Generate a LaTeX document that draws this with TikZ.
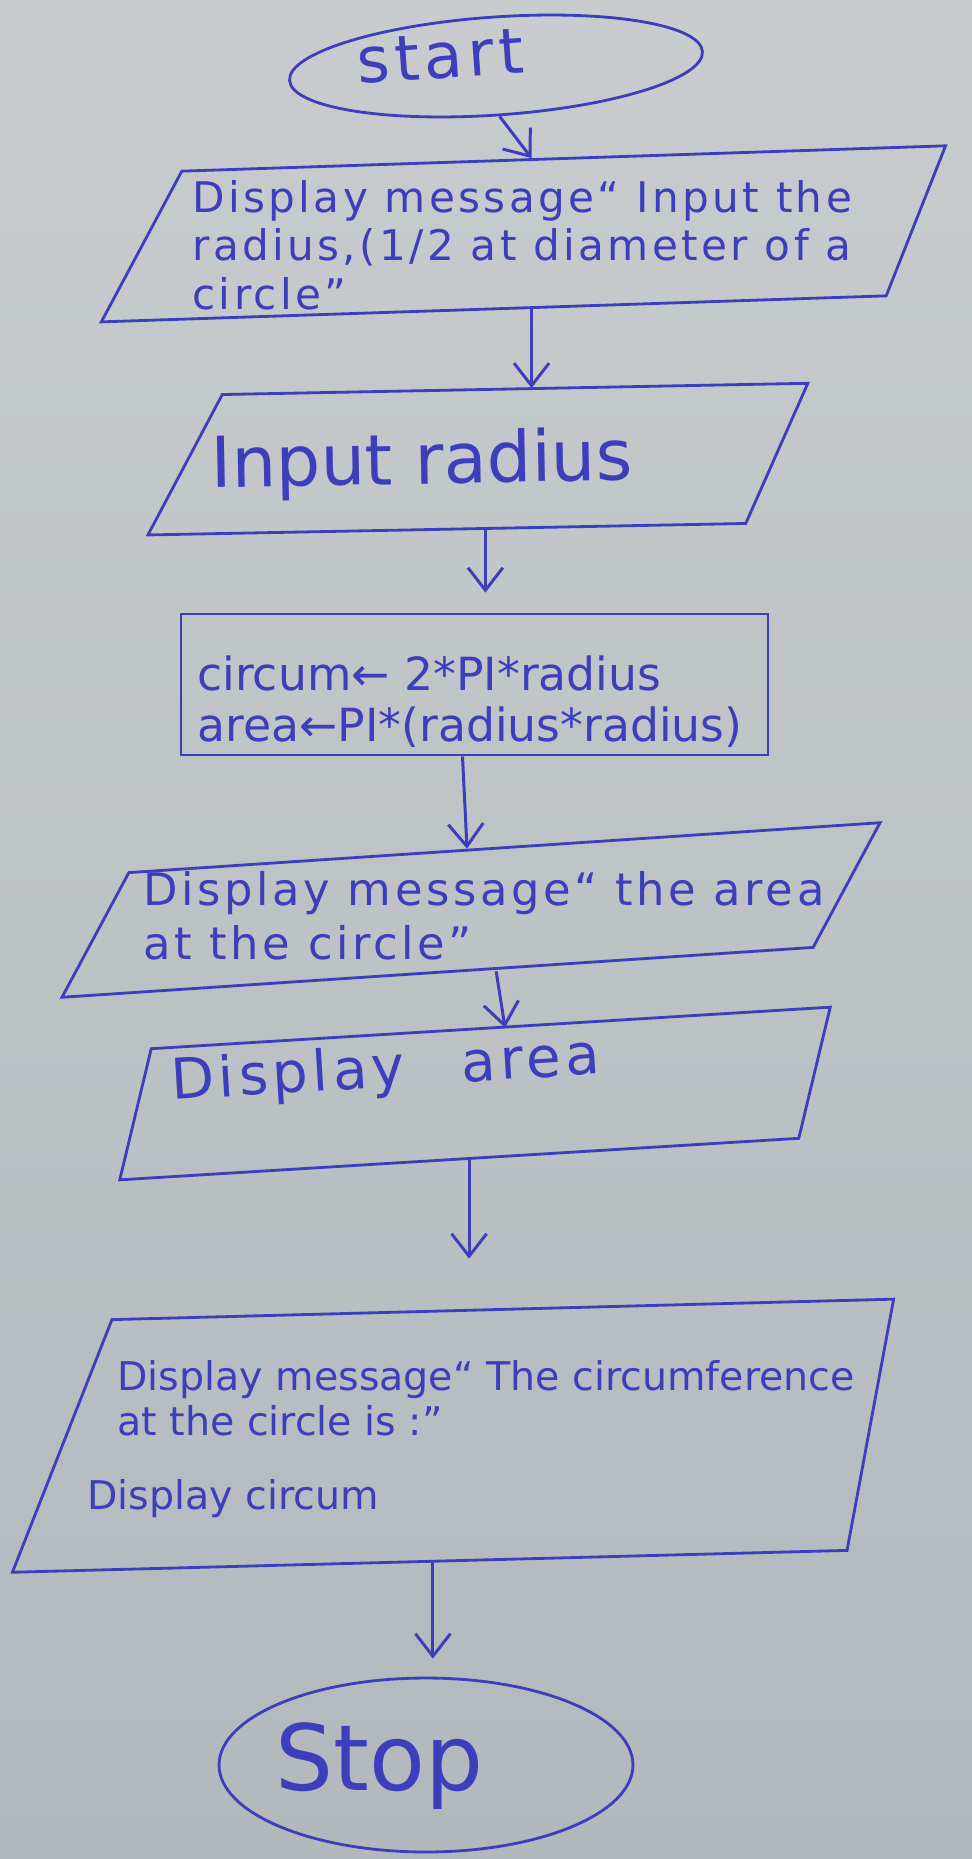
\documentclass[tikz,border=0pt]{standalone}
\usepackage{fontspec}
\setmainfont{DejaVu Sans}
\newfontfamily\handfont[LetterSpace=8]{DejaVu Sans}
\usetikzlibrary{shapes.geometric}
\usetikzlibrary{arrows.meta}

\definecolor{ink}{RGB}{60,62,188}
\definecolor{paperTop}{RGB}{200,204,206}
\definecolor{paperBottom}{RGB}{178,184,188}

\tikzset{
  terminal/.style={draw=ink, line width=1.6pt, ellipse, inner sep=0pt},
  iobox/.style={draw=ink, line width=1.6pt, trapezium, inner sep=0pt},
  procbox/.style={draw=ink, line width=1.6pt, rectangle, inner sep=0pt},
  inktext/.style={text=ink, inner sep=0pt, align=left},
  flow/.style={draw=ink, line width=1.7pt, -{Straight Barb[length=0.45cm,width=0.7cm]}},
}

\begin{document}
\begin{tikzpicture}[x=0.02cm, y=-0.02cm]
    \useasboundingbox (0,0) rectangle (972,1859);
    \shade[top color=paperTop, bottom color=paperBottom] (0,0) rectangle (972,1859);

    % boxes
    \node[terminal, minimum width=8.28cm, minimum height=1.96cm, rotate=4] (start) at (496,66) {};
    \node[iobox, text width=14cm, text height=1.48cm, text depth=1.48cm, trapezium left angle=60, trapezium right angle=113.5, rotate=1.9] (askRadius) at (534,233.5) {};
    \node[iobox, text width=10.42cm, text height=1.39cm, text depth=1.39cm, trapezium left angle=61, trapezium right angle=115, rotate=1.1] (inputRadius) at (484,459) {};
    \node[procbox, minimum width=11.74cm, minimum height=2.82cm] (compute) at (474.5,684.5) {};
    \node[iobox, text width=13.56cm, text height=1.2cm, text depth=1.2cm, trapezium left angle=58, trapezium right angle=122, rotate=3.8] (areaMsg) at (471,910) {};
    \node[iobox, text width=12.82cm, text height=1.29cm, text depth=1.29cm, trapezium left angle=73, trapezium right angle=107, rotate=3.5] (showArea) at (475,1093.5) {};
    \node[iobox, text width=14.58cm, text height=2.5cm, text depth=2.5cm, trapezium left angle=67, trapezium right angle=102, rotate=1.5] (showCircum) at (479.5,1435) {};
    \node[terminal, minimum width=8.28cm, minimum height=3.48cm] (stop) at (426,1765) {};

    % texts
    \node[inktext, anchor=base west, rotate=4, font=\handfont\fontsize{36}{36}\selectfont] (startText) at (358,84) {start};
    \node[inktext, anchor=north west, font=\handfont\fontsize{24}{27.5}\selectfont] (askRadiusText) at (192,180) {Display message“ Input the\\radius,(1/2 at diameter of a\\circle”};
    \node[inktext, anchor=base west, rotate=1.1, font=\fontsize{40}{40}\selectfont] (inputRadiusText) at (211,488) {Input radius};
    \node[inktext, anchor=north west, font=\fontsize{26}{29.5}\selectfont] (computeText) at (197,655) {circum← 2*PI*radius\\area←PI*(radius*radius)};
    \node[inktext, anchor=north west, font=\handfont\fontsize{25.5}{31}\selectfont] (areaMsgText) at (143,871) {Display message“ the area\\at the circle”};
    \node[inktext, anchor=base west, rotate=3.5, font=\handfont\fontsize{32}{32}\selectfont] (showAreaText) at (172,1100) {Display\quad area};
    \node[inktext, anchor=north west, font=\fontsize{22.5}{25.5}\selectfont] (showCircumText) at (117,1360) {Display message“ The circumference\\at the circle is :”\\[17pt]\hspace*{-0.6cm}Display circum};
    \node[inktext, anchor=base west, font=\fontsize{52}{52}\selectfont] (stopText) at (275,1790) {Stop};

    % connectors
    \draw[flow] (start.south) -- (askRadius.north);
    \draw[flow] ([xshift=-0.1cm]askRadius.south) -- ([xshift=-0.1cm]askRadius.south |- inputRadius.north);
    \draw[flow, shorten >=0.4cm] (inputRadius.south) -- (inputRadius.south |- compute.north);
    \draw[flow] ([xshift=-0.24cm]compute.south) -- (areaMsg.north);
    \draw[flow] ([xshift=0.42cm]areaMsg.south) -- ([xshift=0.68cm]showArea.north);
    \draw[flow, shorten >=1cm] ([xshift=-0.2cm]showArea.south) -- ([xshift=-0.2cm]showArea.south |- showCircum.north);
    \draw[flow, shorten >=0.36cm] ([xshift=-1cm]showCircum.south) -- ([xshift=-1cm]showCircum.south |- stop.north);
\end{tikzpicture}
\end{document}
